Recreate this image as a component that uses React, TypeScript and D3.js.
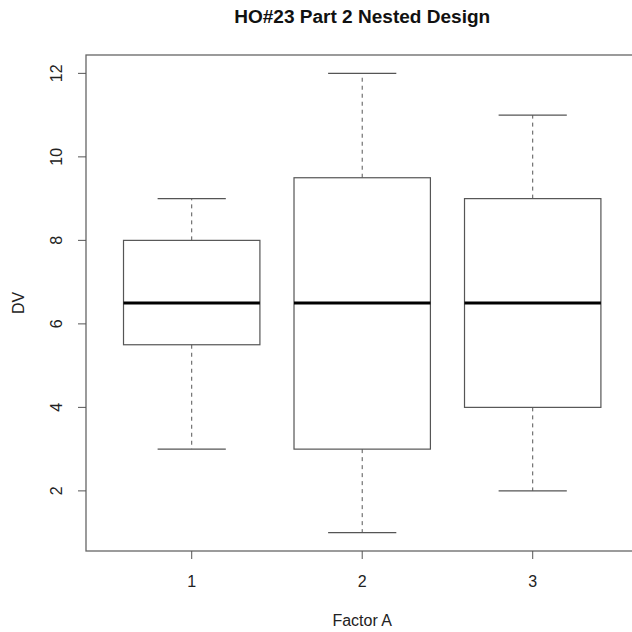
import React from "react";
import * as d3 from "d3";

const categories = ["1", "2", "3"];
const mins = [3, 1, 2];
const q1s = [5.5, 3, 4];
const medians = [6.5, 6.5, 6.5];
const q3s = [8, 9.5, 9];
const maxs = [9, 12, 11];
const yTicks = [2, 4, 6, 8, 10, 12];

const W = 632, H = 632;
const left = 86, top = 55, bottom = 551;
const unit = 170.5;
const right = left + 3.24 * unit;

export default function App() {
  const x = d3.scaleLinear().domain([0.38, 3.62]).range([left, right]);
  const y = d3.scaleLinear().domain([0.56, 12.44]).range([bottom, top]);
  const boxHalf = 0.4;
  const capHalf = 0.2;
  const stroke = "#555";
  const font = "Liberation Sans, Arial, Helvetica, sans-serif";
  return (
    <svg width={W} height={H} style={{ position: "absolute", left: 0, top: 0, background: "#fff" }}>
      <rect x={0} y={0} width={W} height={H} fill="#fff" />
      <text x={x(2)} y={23} textAnchor="middle" fontFamily={font} fontWeight="bold" fontSize={18} fill="#111" textLength={256} lengthAdjust="spacingAndGlyphs">
        HO#23 Part 2 Nested Design
      </text>
      <rect x={left} y={top} width={right - left} height={bottom - top} fill="none" stroke="#666" strokeWidth={1.3} />
      {categories.map((c, i) => {
        const cx = x(i + 1);
        return (
          <g key={c}>
            <line x1={cx} x2={cx} y1={y(q3s[i])} y2={y(maxs[i])} stroke={stroke} strokeWidth={1} strokeDasharray="4,4" />
            <line x1={cx} x2={cx} y1={y(q1s[i])} y2={y(mins[i])} stroke={stroke} strokeWidth={1} strokeDasharray="4,4" />
            <line x1={x(i + 1 - capHalf)} x2={x(i + 1 + capHalf)} y1={y(maxs[i])} y2={y(maxs[i])} stroke={stroke} strokeWidth={1.2} />
            <line x1={x(i + 1 - capHalf)} x2={x(i + 1 + capHalf)} y1={y(mins[i])} y2={y(mins[i])} stroke={stroke} strokeWidth={1.2} />
            <rect
              x={x(i + 1 - boxHalf)}
              y={y(q3s[i])}
              width={x(i + 1 + boxHalf) - x(i + 1 - boxHalf)}
              height={y(q1s[i]) - y(q3s[i])}
              fill="none"
              stroke={stroke}
              strokeWidth={1.2}
            />
            <line x1={x(i + 1 - boxHalf)} x2={x(i + 1 + boxHalf)} y1={y(medians[i])} y2={y(medians[i])} stroke="#000" strokeWidth={3} />
            <line x1={cx} x2={cx} y1={bottom} y2={bottom + 8} stroke="#555" strokeWidth={1} />
            <text x={cx} y={587} textAnchor="middle" fontFamily={font} fontSize={16} fill="#222">{c}</text>
          </g>
        );
      })}
      {yTicks.map((t) => (
        <g key={t}>
          <line x1={left - 8} x2={left} y1={y(t)} y2={y(t)} stroke="#555" strokeWidth={1} />
          <text
            transform={`translate(${62},${y(t)}) rotate(-90)`}
            textAnchor="middle"
            fontFamily={font}
            fontSize={16}
            fill="#222"
          >
            {t}
          </text>
        </g>
      ))}
      <text x={x(2)} y={626} textAnchor="middle" fontFamily={font} fontSize={16} fill="#222">Factor A</text>
      <text transform={`translate(${24},${(top + bottom) / 2}) rotate(-90)`} textAnchor="middle" fontFamily={font} fontSize={16} fill="#222">
        DV
      </text>
    </svg>
  );
}
